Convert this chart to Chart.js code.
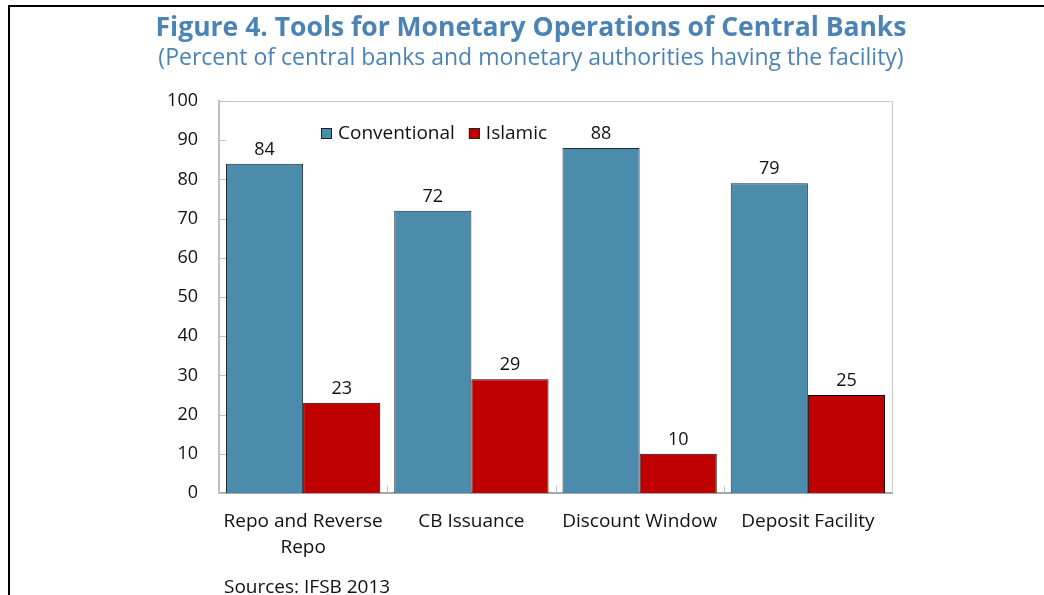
<!DOCTYPE html>
<html>
<head>
<meta charset="utf-8">
<script src="https://cdn.jsdelivr.net/npm/chart.js@4/dist/chart.umd.min.js"></script>
<style>
  html, body { margin: 0; padding: 0; background: #fff; }
  #wrap { width: 1044px; height: 595px; }
</style>
</head>
<body>
<div id="wrap"><canvas id="chart" width="1044" height="595"></canvas></div>
<script>
// data
const categories = [['Repo and Reverse', 'Repo'], 'CB Issuance', 'Discount Window', 'Deposit Facility'];
const conventional = [84, 72, 88, 79];
const islamic = [23, 29, 10, 25];
const seriesNames = ['Conventional', 'Islamic'];

const blue = '#4b8bac';
const red = '#c00000';
const titleBlue = '#4b83b5';
const font = 'Open Sans';

// frame, plot border, inner ticks, legend, sources
const decor = {
  id: 'decor',
  beforeDraw(chart) {
    const ctx = chart.ctx;
    ctx.save();
    ctx.fillStyle = '#fff';
    ctx.fillRect(0, 0, chart.width, chart.height);
    ctx.fillStyle = '#000';
    ctx.fillRect(8, 5, chart.width - 8, 2);
    ctx.fillRect(8, 5, 2, chart.height - 5);
    ctx.restore();
  },
  afterDraw(chart) {
    const ctx = chart.ctx;
    const a = chart.chartArea;
    const x = chart.scales.x, y = chart.scales.y;
    ctx.save();
    // top and right edges of the plot
    ctx.strokeStyle = '#c8c8c8';
    ctx.lineWidth = 1;
    ctx.beginPath();
    ctx.moveTo(a.left, a.top + 0.5);
    ctx.lineTo(a.right + 0.5, a.top + 0.5);
    ctx.lineTo(a.right + 0.5, a.bottom);
    ctx.stroke();
    // y ticks pointing inward
    ctx.strokeStyle = '#bfbfbf';
    ctx.beginPath();
    y.ticks.forEach(t => {
      const py = Math.round(y.getPixelForValue(t.value)) + 0.5;
      ctx.moveTo(a.left, py);
      ctx.lineTo(a.left + 7, py);
    });
    // x category separators pointing up
    for (let i = 0; i < categories.length - 1; i++) {
      const px = Math.round((x.getPixelForValue(i) + x.getPixelForValue(i + 1)) / 2) + 0.5;
      ctx.moveTo(px, a.bottom);
      ctx.lineTo(px, a.bottom - 7);
    }
    ctx.stroke();

    // legend inside the plot
    ctx.font = '19px "' + font + '"';
    ctx.textBaseline = 'middle';
    ctx.textAlign = 'left';
    let lx = a.left + 102;
    const ly = a.top + 27;
    chart.data.datasets.forEach(ds => {
      ctx.fillStyle = ds.backgroundColor;
      ctx.fillRect(lx, ly, 11, 11);
      ctx.strokeStyle = '#222';
      ctx.strokeRect(lx + 0.5, ly + 0.5, 10, 10);
      ctx.fillStyle = '#111';
      ctx.fillText(ds.label, lx + 17, ly + 6);
      lx += 17 + ctx.measureText(ds.label).width + 14;
    });

    // source note
    ctx.font = '19px "' + font + '"';
    ctx.textBaseline = 'alphabetic';
    ctx.fillStyle = '#111';
    ctx.fillText('Sources: IFSB 2013', 224, 593);
    ctx.restore();
  }
};

// numbers above the bars
const valueLabels = {
  id: 'valueLabels',
  afterDatasetsDraw(chart) {
    const ctx = chart.ctx;
    ctx.save();
    ctx.font = '18px "' + font + '"';
    ctx.fillStyle = '#111';
    ctx.textAlign = 'center';
    ctx.textBaseline = 'alphabetic';
    chart.data.datasets.forEach((ds, i) => {
      chart.getDatasetMeta(i).data.forEach((bar, j) => {
        ctx.fillText(ds.data[j], bar.x, bar.y - 9);
      });
    });
    ctx.restore();
  }
};

new Chart(document.getElementById('chart'), {
  type: 'bar',
  data: {
    labels: categories,
    datasets: [
      {
        label: seriesNames[0],
        data: conventional,
        backgroundColor: blue,
        borderColor: '#1e2a30',
        borderWidth: 1
      },
      {
        label: seriesNames[1],
        data: islamic,
        backgroundColor: red,
        borderColor: '#1a0000',
        borderWidth: 1
      }
    ]
  },
  options: {
    responsive: false,
    animation: false,
    layout: { padding: { left: 18, right: 0, top: 0, bottom: 0 } },
    datasets: {
      bar: { categoryPercentage: 0.917, barPercentage: 1.0 }
    },
    plugins: {
      legend: { display: false },
      tooltip: { enabled: false },
      title: {
        display: true,
        text: 'Figure 4. Tools for Monetary Operations of Central Banks',
        color: titleBlue,
        font: { family: font, size: 26.5, weight: 'bold' },
        padding: { top: 13, bottom: 0 }
      },
      subtitle: {
        display: true,
        text: '(Percent of central banks and monetary authorities having the facility)',
        color: titleBlue,
        font: { family: font, size: 23 },
        padding: { top: 0, bottom: 28.6 }
      }
    },
    scales: {
      x: {
        z: 1,
        grid: { display: false, drawTicks: false },
        border: { color: '#a6a6a6', width: 2 },
        ticks: {
          color: '#111',
          font: { family: font, size: 19, lineHeight: 1.35 },
          padding: 16,
          maxRotation: 0,
          autoSkip: false
        },
        afterFit(scale) { scale.height = 102; }
      },
      y: {
        min: 0,
        max: 100,
        grid: { display: false, drawTicks: false },
        border: { color: '#bfbfbf', width: 2 },
        ticks: {
          stepSize: 10,
          color: '#111',
          font: { family: font, size: 18 },
          padding: 21
        },
        afterFit(scale) { scale.width = 201; }
      },
      // empty right margin so the titles centre on the page
      yRight: {
        position: 'right',
        grid: { display: false, drawTicks: false },
        border: { display: false },
        ticks: { display: false },
        afterFit(scale) { scale.width = 152; }
      }
    }
  },
  plugins: [decor, valueLabels]
});
</script>
</body>
</html>
